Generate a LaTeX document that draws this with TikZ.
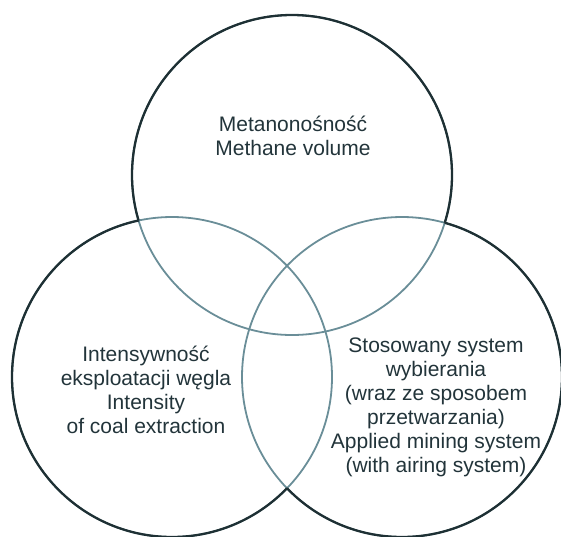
\documentclass[tikz,border=0pt]{standalone}
\usepackage{fontspec}
\setmainfont{Liberation Sans}
\definecolor{rimcol}{HTML}{1E3034}
\definecolor{ringcol}{HTML}{6A8E98}
\definecolor{textcol}{HTML}{22343A}
\tikzset{
  ring/.style={line width=1.8pt,draw=ringcol},
  rim/.style={line width=2.3pt,draw=rimcol},
  venntext/.style={align=center,inner sep=0pt,text=textcol,font=\fontsize{21}{24}\selectfont}
}
\begin{document}
\begin{tikzpicture}[x=1pt,y=-1pt]
\useasboundingbox (0,0) rectangle (561,536);
\coordinate (top) at (292,175);
\coordinate (left) at (172,377);
\coordinate (right) at (402,377);

\foreach \c in {top,left,right}
  \draw[ring] (\c) circle[radius=160pt];

\foreach \c/\a/\b in {top/left/right,left/top/right,right/top/left}{
  \begin{scope}[even odd rule]
  \clip (-20,-20) rectangle (581,556) (\a) circle[radius=160pt];
  \clip (-20,-20) rectangle (581,556) (\b) circle[radius=160pt];
  \draw[rim] (\c) circle[radius=160pt];
  \end{scope}
}

\node[venntext] (methane) at (293,136) {Metanonośność\\Methane volume};
\node[venntext] (intensity) at (146,390) {Intensywność\\eksploatacji węgla\\Intensity\\of coal extraction};
\node[venntext] (mining) at (436,407) {Stosowany system\\wybierania\\(wraz ze sposobem\\przetwarzania)\\Applied mining system\\(with airing system)};
\end{tikzpicture}
\end{document}
